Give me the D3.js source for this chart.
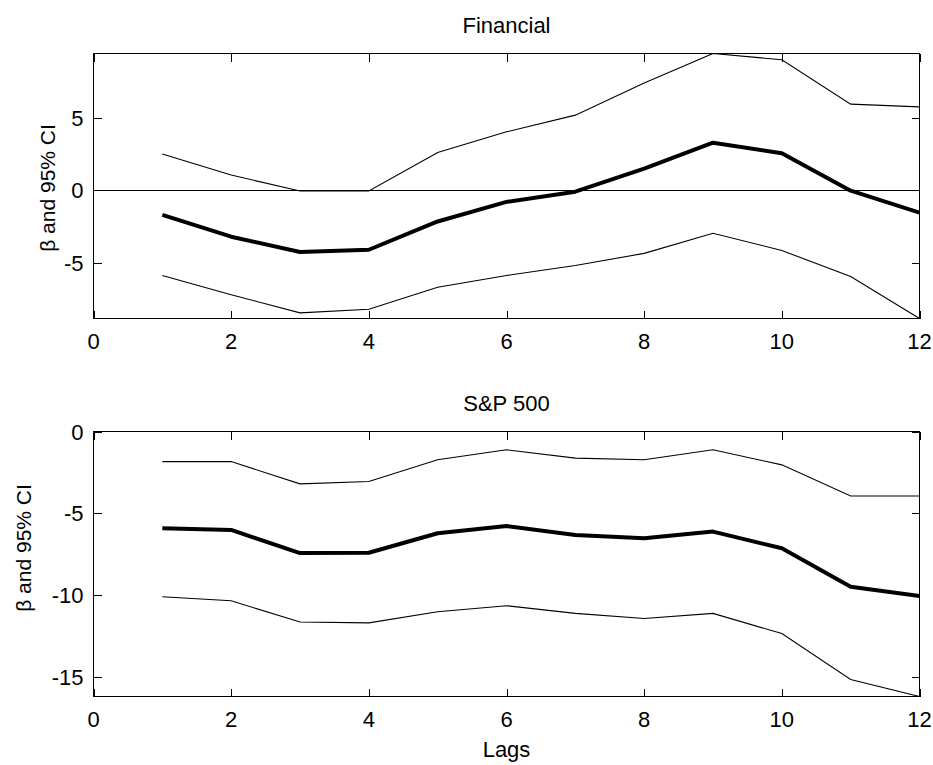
<!DOCTYPE html>
<html>
<head>
<meta charset="utf-8">
<script src="https://cdn.jsdelivr.net/npm/d3@7"></script>
<style>
  html, body { margin: 0; padding: 0; background: #fff; }
  svg { display: block; }
  text { font-family: "Liberation Sans", Arial, sans-serif; fill: #000; }
</style>
</head>
<body>
<svg id="chart" width="933" height="765"></svg>
<script>
// Lags on the horizontal axis
const lags = [1, 2, 3, 4, 5, 6, 7, 8, 9, 10, 11, 12];

// Financial: coefficient estimate and 95% confidence band
const finBeta  = [-1.7, -3.2, -4.25, -4.1, -2.15, -0.8, -0.1, 1.5, 3.28, 2.55, -0.03, -1.54];
const finUpper = [2.5, 1.05, -0.05, -0.05, 2.6, 4.03, 5.18, 7.4, 9.43, 9.0, 5.94, 5.75];
const finLower = [-5.87, -7.2, -8.45, -8.2, -6.68, -5.87, -5.19, -4.35, -2.96, -4.15, -5.95, -8.84];

// S&P 500: coefficient estimate and 95% confidence band
const spBeta  = [-5.92, -6.02, -7.43, -7.41, -6.22, -5.78, -6.33, -6.53, -6.12, -7.14, -9.49, -10.06];
const spUpper = [-1.84, -1.84, -3.2, -3.06, -1.73, -1.12, -1.63, -1.73, -1.12, -2.04, -3.94, -3.94];
const spLower = [-10.1, -10.35, -11.65, -11.7, -11.02, -10.65, -11.12, -11.43, -11.12, -12.35, -15.16, -16.2];

// Axis tick labels
const xTicks = [0, 2, 4, 6, 8, 10, 12];
const finYTicks = [-5, 0, 5];
const spYTicks = [-15, -10, -5, 0];

const svg = d3.select("#chart");
const left = 93.5, right = 919.5;
const tickFont = 22;

const x = d3.scaleLinear().domain([0, 12]).range([left, right]);

function panel(cfg) {
  const y = d3.scaleLinear().domain(cfg.yDomain).range([cfg.bottom, cfg.top]);
  const g = svg.append("g");
  const tickLen = 8;

  // frame
  g.append("rect")
    .attr("x", left).attr("y", cfg.top)
    .attr("width", right - left).attr("height", cfg.bottom - cfg.top)
    .attr("fill", "none").attr("stroke", "#000").attr("stroke-width", 1)
    .attr("shape-rendering", "crispEdges");

  // x ticks: inward on bottom and top edges
  const xt = g.append("g").attr("stroke", "#000").attr("shape-rendering", "crispEdges");
  xTicks.forEach(t => {
    const px = Math.round(x(t)) + 0.5;
    xt.append("line").attr("x1", px).attr("x2", px).attr("y1", cfg.bottom).attr("y2", cfg.bottom - tickLen);
    xt.append("line").attr("x1", px).attr("x2", px).attr("y1", cfg.top).attr("y2", cfg.top + tickLen);
  });
  g.selectAll("text.xt").data(xTicks).join("text")
    .attr("class", "xt")
    .attr("x", d => x(d)).attr("y", cfg.bottom + 30)
    .attr("text-anchor", "middle").attr("font-size", tickFont)
    .text(d => d);

  // y ticks: inward on left and right edges
  const yt = g.append("g").attr("stroke", "#000").attr("shape-rendering", "crispEdges");
  cfg.yTicks.forEach(t => {
    const py = Math.round(y(t)) + 0.5;
    yt.append("line").attr("x1", left).attr("x2", left + tickLen).attr("y1", py).attr("y2", py);
    yt.append("line").attr("x1", right).attr("x2", right - tickLen).attr("y1", py).attr("y2", py);
  });
  g.selectAll("text.yt").data(cfg.yTicks).join("text")
    .attr("class", "yt")
    .attr("x", left - 10).attr("y", d => y(d) + 8)
    .attr("text-anchor", "end").attr("font-size", tickFont)
    .text(d => d);

  // zero reference line
  if (cfg.zeroLine) {
    g.append("line")
      .attr("x1", left).attr("x2", right)
      .attr("y1", Math.round(y(0)) + 0.5).attr("y2", Math.round(y(0)) + 0.5)
      .attr("stroke", "#000").attr("stroke-width", 1)
      .attr("shape-rendering", "crispEdges");
  }

  const line = d3.line().x((d, i) => x(lags[i])).y(d => y(d));
  const clipId = "clip-" + cfg.id;
  svg.append("clipPath").attr("id", clipId).append("rect")
    .attr("x", left).attr("y", cfg.top)
    .attr("width", right - left).attr("height", cfg.bottom - cfg.top);
  const lines = g.append("g").attr("clip-path", `url(#${clipId})`);

  [cfg.upper, cfg.lower].forEach(s => {
    lines.append("path").attr("d", line(s))
      .attr("fill", "none").attr("stroke", "#000").attr("stroke-width", 1.1);
  });
  lines.append("path").attr("d", line(cfg.beta))
    .attr("fill", "none").attr("stroke", "#000").attr("stroke-width", 4)
    .attr("stroke-linejoin", "round");

  // title
  g.append("text")
    .attr("x", (left + right) / 2).attr("y", cfg.top - 20.5)
    .attr("text-anchor", "middle").attr("font-size", 22)
    .text(cfg.title);

  // y label
  g.append("text")
    .attr("transform", `translate(${cfg.labelX},${cfg.labelY}) rotate(-90)`)
    .attr("text-anchor", "middle").attr("font-size", 21)
    .text("β and 95% CI");

  return y;
}

panel({
  id: "fin", title: "Financial", top: 53.5, bottom: 318.5,
  yDomain: [-8.84, 9.43], yTicks: finYTicks, zeroLine: true,
  labelX: 55, labelY: 188,
  beta: finBeta, upper: finUpper, lower: finLower
});

panel({
  id: "sp", title: "S&P 500", top: 431.5, bottom: 696.5,
  yDomain: [-16.2, 0], yTicks: spYTicks, zeroLine: false,
  labelX: 31, labelY: 548,
  beta: spBeta, upper: spUpper, lower: spLower
});

// x axis title under the lower panel
svg.append("text")
  .attr("x", (left + right) / 2).attr("y", 757)
  .attr("text-anchor", "middle").attr("font-size", 22)
  .text("Lags");
</script>
</body>
</html>
